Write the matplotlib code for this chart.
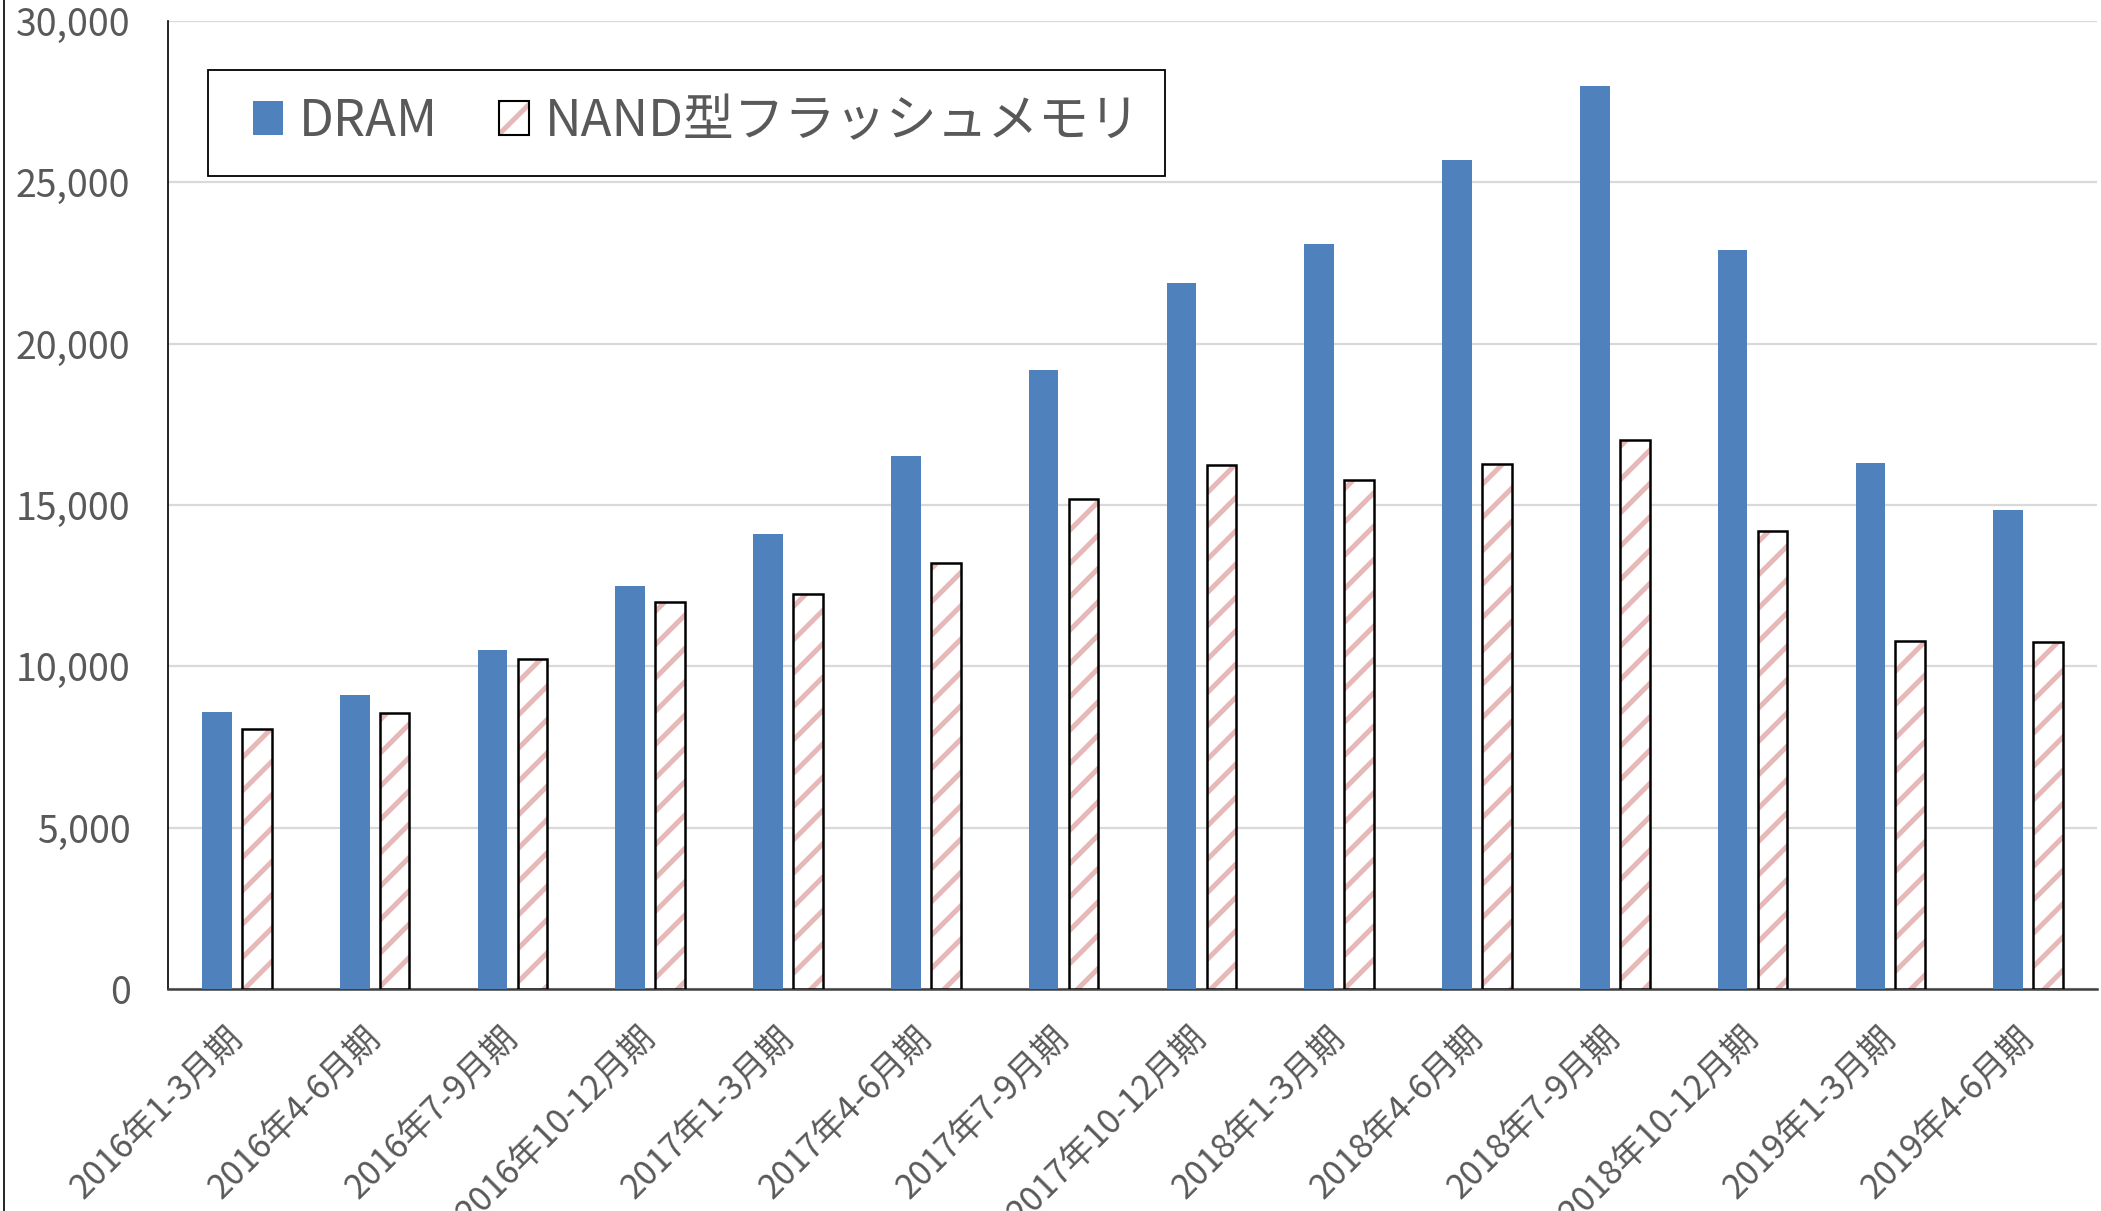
import matplotlib
matplotlib.use("Agg")
import matplotlib.pyplot as plt
import numpy as np
from matplotlib.patches import Patch, Rectangle
from matplotlib.lines import Line2D
from matplotlib.legend_handler import HandlerTuple

plt.rcParams['font.family'] = ['Noto Sans CJK JP', 'DejaVu Sans']
plt.rcParams['hatch.linewidth'] = 3.6

categories = ["2016年1-3月期", "2016年4-6月期", "2016年7-9月期", "2016年10-12月期",
              "2017年1-3月期", "2017年4-6月期", "2017年7-9月期", "2017年10-12月期",
              "2018年1-3月期", "2018年4-6月期", "2018年7-9月期", "2018年10-12月期",
              "2019年1-3月期", "2019年4-6月期"]
dram = [8580, 9100, 10500, 12480, 14100, 16520, 19180, 21890, 23100, 25680, 28000, 22890, 16310, 14830]
nand = [8060, 8550, 10220, 11980, 12230, 13190, 15190, 16230, 15770, 16270, 17020, 14190, 10780, 10760]
yticks = [0, 5000, 10000, 15000, 20000, 25000, 30000]
series_names = ["DRAM", "NAND型フラッシュメモリ"]

BLUE = "#4F81BD"
PINK = "#E6B9B8"
GRAY = "#595959"

W, H = 2101, 1211
fig = plt.figure(figsize=(W/100, H/100), dpi=100)
ax = fig.add_axes([168/W, 1-989/H, (2097-168)/W, (989-21)/H])

x = np.arange(len(categories))
w = 0.215
off = 0.145
ax.bar(x - off, dram, width=w, color=BLUE, zorder=3, linewidth=0)
ax.bar(x + off, nand, width=w, color="white", edgecolor=PINK, hatch="/", linewidth=0, zorder=3)
ax.bar(x + off, nand, width=w, fill=False, edgecolor="black", linewidth=1.8, zorder=4)

ax.set_xlim(-0.5, len(categories) - 0.5)
ax.set_ylim(0, 30000)
ax.set_yticks(yticks)
ax.set_yticklabels([f"{v:,}" for v in yticks])
ax.yaxis.grid(True, color="#D9D9D9", linewidth=1.6, zorder=0)
ax.set_axisbelow(True)

ax.set_xticks(x)
ax.set_xticklabels(categories, rotation=45, ha="right", va="center", rotation_mode="anchor")
ax.tick_params(axis="x", length=0, pad=31, labelsize=24.5, labelcolor=GRAY)
ax.tick_params(axis="y", length=0, pad=27, labelsize=27, labelcolor=GRAY)

for s in ["top", "right"]:
    ax.spines[s].set_visible(False)
ax.spines["left"].set_color("black")
ax.spines["left"].set_linewidth(1.2)
ax.spines["bottom"].set_color("#404040")
ax.spines["bottom"].set_linewidth(1.8)

# legend frame drawn separately
fig.add_artist(Rectangle((208/W, 1-176/H), (1165-208)/W, (176-70)/H,
                         transform=fig.transFigure, fill=True, facecolor="white",
                         edgecolor="black", linewidth=1.3, zorder=5))

h1 = Patch(facecolor=BLUE, edgecolor=BLUE, linewidth=0)
h2a = Patch(facecolor="white", edgecolor=PINK, hatch="/", linewidth=0)
h2b = Patch(fill=False, edgecolor="black", linewidth=1.5)
leg = fig.legend([h1, (h2a, h2b)], series_names, loc="center",
                 bbox_to_anchor=(697/W, 1-122/H), ncol=2, fontsize=36.5,
                 frameon=False,
                 handler_map={tuple: HandlerTuple(ndivide=1, pad=0)},
                 handlelength=0.59, handleheight=0.65, handletextpad=0.32,
                 columnspacing=1.2, borderpad=0.0, borderaxespad=0)
leg.set_zorder(6)
for t in leg.get_texts():
    t.set_color(GRAY)

fig.add_artist(Line2D([4/W, 4/W], [0, 1], transform=fig.transFigure, color="black", linewidth=1.2))

fig.savefig("out.png", dpi=100)
